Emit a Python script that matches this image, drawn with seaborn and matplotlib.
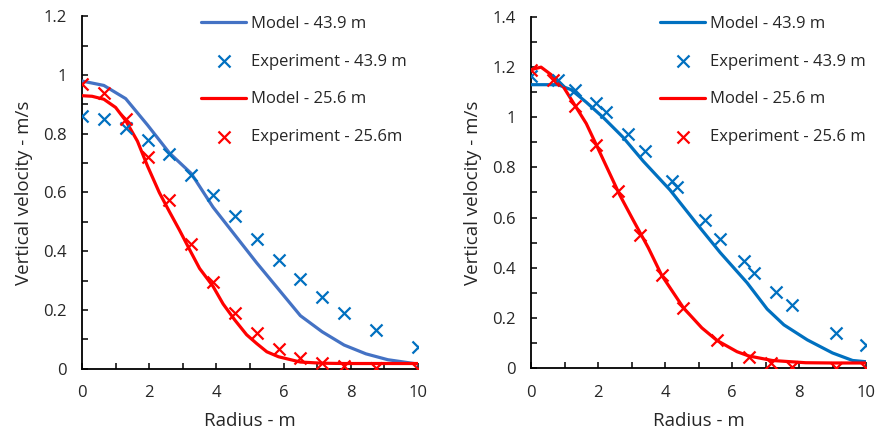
import matplotlib
matplotlib.use("Agg")
import matplotlib.pyplot as plt
import seaborn as sns
import pandas as pd
from matplotlib.ticker import MultipleLocator, FuncFormatter

# ---------------- data ----------------
# Left panel
L_model439_r = [0, 0.65, 1.3, 1.95, 2.6, 3.25, 3.9, 4.55, 5.2, 5.85, 6.5, 7.15, 7.8, 8.45, 9.1, 10]
L_model439_v = [0.98, 0.965, 0.92, 0.83, 0.735, 0.665, 0.55, 0.455, 0.36, 0.27, 0.18, 0.125, 0.08, 0.05, 0.03, 0.015]
L_exp439_r = [0, 0.65, 1.3, 1.95, 2.6, 3.25, 3.9, 4.55, 5.2, 5.85, 6.5, 7.15, 7.8, 8.75, 10]
L_exp439_v = [0.86, 0.85, 0.82, 0.78, 0.73, 0.66, 0.59, 0.52, 0.44, 0.37, 0.305, 0.245, 0.19, 0.13, 0.075]
L_model256_r = [0, 0.3, 0.65, 1.0, 1.3, 1.65, 1.95, 2.3, 2.6, 2.9, 3.25, 3.5, 3.9, 4.2, 4.55, 4.9, 5.2, 5.5, 5.85, 6.5, 7.15, 7.8, 8.45, 9.1, 10]
L_model256_v = [0.93, 0.928, 0.918, 0.89, 0.845, 0.775, 0.69, 0.6, 0.535, 0.472, 0.395, 0.341, 0.28, 0.22, 0.165, 0.115, 0.085, 0.057, 0.04, 0.022, 0.018, 0.017, 0.017, 0.017, 0.017]
L_exp256_r = [0, 0.65, 1.3, 1.95, 2.6, 3.25, 3.9, 4.55, 5.2, 5.85, 6.5, 7.15, 7.8, 8.75, 10]
L_exp256_v = [0.97, 0.94, 0.85, 0.72, 0.575, 0.425, 0.295, 0.19, 0.12, 0.065, 0.035, 0.018, 0.008, 0.003, 0.0]

# Right panel
R_model439_r = [0, 0.8, 1.2, 1.65, 2.15, 2.75, 3.35, 4.15, 4.95, 5.65, 6.45, 7.05, 7.55, 8.25, 9.0, 9.6, 10]
R_model439_v = [1.13, 1.13, 1.11, 1.06, 1.0, 0.92, 0.825, 0.71, 0.575, 0.46, 0.34, 0.235, 0.172, 0.112, 0.06, 0.03, 0.025]
R_exp439_r = [0, 0.8, 1.3, 1.95, 2.25, 2.9, 3.4, 4.2, 4.35, 5.2, 5.65, 6.35, 6.65, 7.3, 7.8, 9.1, 10]
R_exp439_v = [1.165, 1.15, 1.11, 1.055, 1.02, 0.935, 0.865, 0.745, 0.72, 0.59, 0.515, 0.425, 0.38, 0.305, 0.25, 0.14, 0.09]
R_model256_r = [0, 0.3, 0.6, 0.95, 1.3, 1.65, 1.95, 2.3, 2.65, 3.05, 3.5, 3.9, 4.55, 5.1, 5.55, 6.15, 6.5, 7.2, 8.2, 9.0, 10]
R_model256_v = [1.19, 1.2, 1.17, 1.125, 1.05, 0.975, 0.89, 0.79, 0.69, 0.59, 0.48, 0.37, 0.24, 0.16, 0.11, 0.065, 0.048, 0.03, 0.021, 0.02, 0.02]
R_exp256_r = [0, 0.65, 1.3, 1.95, 2.6, 3.25, 3.9, 4.55, 5.55, 6.5, 7.15, 7.8, 9.1, 10]
R_exp256_v = [1.19, 1.15, 1.045, 0.89, 0.705, 0.53, 0.37, 0.24, 0.11, 0.045, 0.018, 0.005, 0.0, 0.0]

LEFT_LABELS = ["Model - 43.9 m", "Experiment - 43.9 m", "Model - 25.6 m", "Experiment - 25.6m"]
RIGHT_LABELS = ["Model - 43.9 m", "Experiment - 43.9 m", "Model - 25.6 m", "Experiment - 25.6 m"]
X_LABEL = "Radius - m"
Y_LABEL = "Vertical velocity - m/s"

# ---------------- styling ----------------
sns.set_style("white")
plt.rcParams['font.family'] = ['Open Sans', 'DejaVu Sans']
FS = 12
FS_LAB = 13.5
TXT = "#262626"

W, H = 877, 440
fig = plt.figure(figsize=(W / 100, H / 100), dpi=100)

def px_axes(x0, x1, y0, y1):
    return fig.add_axes([x0 / W, 1 - y1 / H, (x1 - x0) / W, (y1 - y0) / H])

axL = px_axes(82, 418, 16.5, 368.5)
axR = px_axes(531, 866, 17, 368)

def fmt(v, pos):
    s = f"{v:.1f}"
    if s.endswith(".0"):
        s = s[:-2]
    return s

def draw(ax, data, labels, line_blue, ymax, legend_x):
    (m1r, m1v), (e1r, e1v), (m2r, m2v), (e2r, e2v) = data
    sns.lineplot(x=m1r, y=m1v, ax=ax, color=line_blue, lw=2.3, label=labels[0], sort=False, estimator=None, zorder=3)
    sns.scatterplot(x=e1r, y=e1v, ax=ax, marker='x', color="#0070C0", s=75, linewidth=1.6, label=labels[1], zorder=4)
    sns.lineplot(x=m2r, y=m2v, ax=ax, color="#FF0000", lw=2.3, label=labels[2], sort=False, estimator=None, zorder=3)
    sns.scatterplot(x=e2r, y=e2v, ax=ax, marker='x', color="#FF0000", s=75, linewidth=1.6, label=labels[3], zorder=4)
    ax.set_xlim(0, 10)
    ax.set_ylim(0, ymax)
    ax.xaxis.set_major_locator(MultipleLocator(2))
    ax.xaxis.set_minor_locator(MultipleLocator(1))
    ax.yaxis.set_major_locator(MultipleLocator(0.2))
    ax.yaxis.set_minor_locator(MultipleLocator(0.1))
    ax.yaxis.set_major_formatter(FuncFormatter(fmt))
    for s in ['top', 'right']:
        ax.spines[s].set_visible(False)
    for s in ['left', 'bottom']:
        ax.spines[s].set_color("#000000")
        ax.spines[s].set_linewidth(1.3)
    ax.tick_params(which='both', direction='in', length=4.5, width=1.1, color="black",
                   left=True, bottom=True)
    ax.tick_params(axis='x', which='major', pad=12, labelsize=FS, labelcolor=TXT)
    ax.tick_params(axis='y', which='major', pad=11, labelsize=FS, labelcolor=TXT)
    ax.set_xlabel(X_LABEL, fontsize=FS_LAB, color=TXT, labelpad=8)
    ax.set_ylabel(Y_LABEL, fontsize=FS_LAB, color=TXT, labelpad=7)
    ax.grid(False)
    leg = ax.legend(loc='upper left', bbox_to_anchor=(legend_x / W, 1 - 16 / H),
                    bbox_transform=fig.transFigure, frameon=False, fontsize=FS,
                    borderpad=0, borderaxespad=0, handlelength=2.7, handletextpad=0.3,
                    labelspacing=1.3)
    for t in leg.get_texts():
        t.set_color(TXT)

draw(axL, [(L_model439_r, L_model439_v), (L_exp439_r, L_exp439_v),
           (L_model256_r, L_model256_v), (L_exp256_r, L_exp256_v)],
     LEFT_LABELS, "#4472C4", 1.2, 201)
draw(axR, [(R_model439_r, R_model439_v), (R_exp439_r, R_exp439_v),
           (R_model256_r, R_model256_v), (R_exp256_r, R_exp256_v)],
     RIGHT_LABELS, "#0070C0", 1.4, 660)

fig.savefig("out.png", dpi=100, facecolor="white")
